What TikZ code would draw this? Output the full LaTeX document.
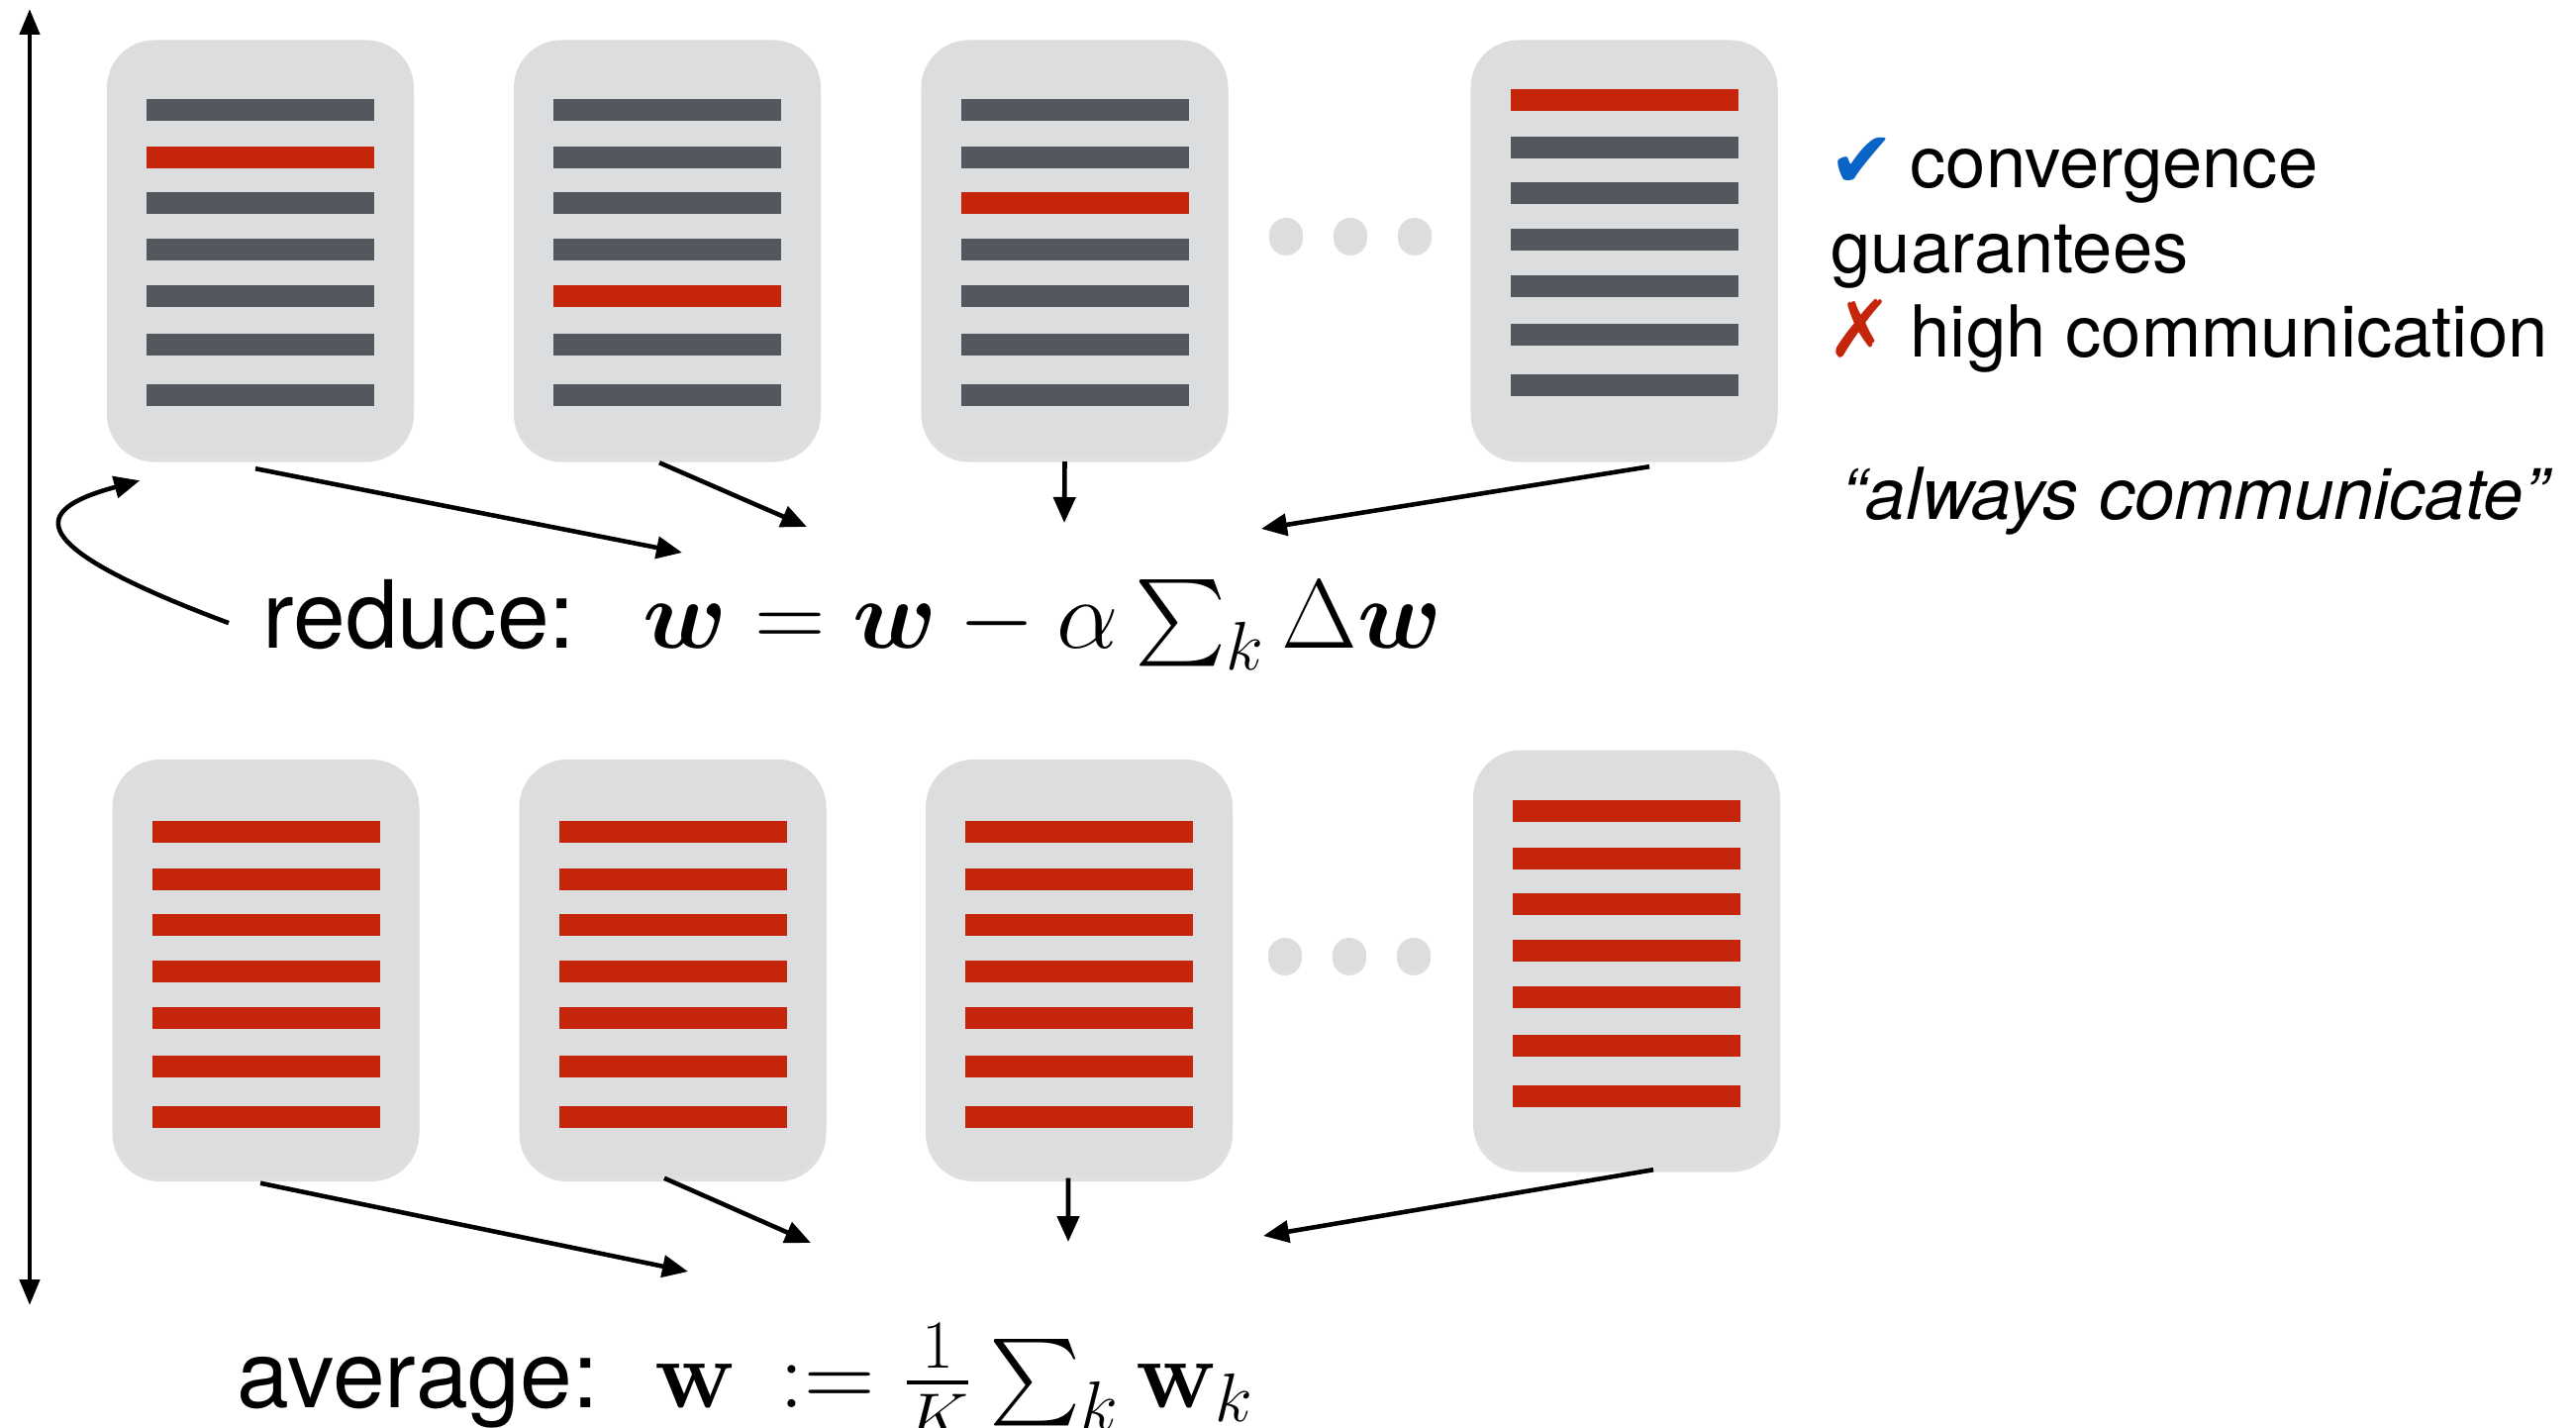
\documentclass[tikz,border=0pt]{standalone}
\usepackage{fix-cm}
\usepackage{amsmath,bm}
\usepackage[no-math]{fontspec}
\setmainfont{TeX Gyre Heros}
\newfontfamily\symfont{DejaVu Sans}
\usetikzlibrary{positioning, arrows.meta, shadows}
\definecolor{boxgray}{HTML}{DCDDDF}
\definecolor{dk}{HTML}{53575E}
\definecolor{rd}{HTML}{C5250A}
\definecolor{chkblue}{HTML}{0A64C8}

% seven bars of one worker: node, extra shift, colour of each row
\newcommand{\serverbars}[3]{%
  \foreach \c [count=\i] in {#3} {
    \pgfmathsetmacro{\yy}{{0.71,1.19,1.65,2.12,2.59,3.08,3.59}[\i-1]+#2-0.11}
    \fill[\c] ([xshift=-1.15cm, yshift=-\yy cm]#1.north) rectangle +(2.3,-0.22);
  }}

\begin{document}
\begin{tikzpicture}
\tikzstyle{worker}=[rounded corners=0.48cm, fill=boxgray, minimum width=3.1cm, minimum height=4.2cm, drop shadow={opacity=0.25, shadow xshift=0pt, shadow yshift=-0.06cm}]
\tikzstyle{dot}=[circle, fill=boxgray, minimum size=0.34cm, inner sep=0pt, drop shadow={opacity=0.25, shadow xshift=0pt, shadow yshift=-0.04cm}]
\tikzstyle{arr}=[line width=1.3pt, -{Triangle[length=0.26cm, width=0.22cm]}]
\tikzstyle{lbl}=[inner sep=0pt, anchor=base west]
\tikzstyle{big}=[lbl, font=\fontsize{27}{32}\selectfont]
\tikzstyle{eq}=[lbl, font=\fontsize{28.2}{32}\selectfont]
\tikzstyle{side}=[lbl, font=\fontsize{20.6}{24.3}\selectfont]
\useasboundingbox (0,0) rectangle (26.02,-14.41);

% top row: one gradient each
\node[worker] (t1) at (2.63,-2.505) {}; \node[worker] (t2) at (6.74,-2.505) {}; \node[worker] (t3) at (10.855,-2.505) {}; \node[worker] (t4) at (16.405,-2.505) {};
\serverbars{t1}{0}{dk,rd,dk,dk,dk,dk,dk}
\serverbars{t2}{0}{dk,dk,dk,dk,rd,dk,dk}
\serverbars{t3}{0}{dk,dk,rd,dk,dk,dk,dk}
\serverbars{t4}{-0.10}{rd,dk,dk,dk,dk,dk,dk}
\node[dot] (td1) at (12.99,-2.37) {}; \node[dot] (td2) at (13.64,-2.37) {}; \node[dot] (td3) at (14.29,-2.37) {};

% bottom row: full models
\node[worker] (b1) at (2.685,-9.77) {}; \node[worker] (b2) at (6.795,-9.77) {}; \node[worker] (b3) at (10.9,-9.77) {}; \node[worker] (b4) at (16.43,-9.675) {};
\serverbars{b1}{0.03}{rd,rd,rd,rd,rd,rd,rd}
\serverbars{b2}{0.03}{rd,rd,rd,rd,rd,rd,rd}
\serverbars{b3}{0.03}{rd,rd,rd,rd,rd,rd,rd}
\serverbars{b4}{-0.09}{rd,rd,rd,rd,rd,rd,rd}
\node[dot] (bd1) at (12.98,-9.64) {}; \node[dot] (bd2) at (13.63,-9.64) {}; \node[dot] (bd3) at (14.28,-9.64) {};

% formulas
\node[big] (red) at (2.65,-6.54) {reduce:};
\node[eq] (redf) at (6.49,-6.54) {$\bm{w} = \bm{w} - \alpha \sum_k \Delta \bm{w}$};
\node[big] (avg) at (2.39,-14.21) {average:};
\node[eq] (avgf) at (6.61,-14.21) {$\mathbf{w}\, := \frac{1}{K}\sum_k \mathbf{w}_k$};

% arrows into the formulas
\coordinate (r1) at (6.89,-5.58); \coordinate (r2) at (8.15,-5.32); \coordinate (r3) at (10.75,-5.28); \coordinate (r4) at (12.74,-5.34);
\draw[arr] ([xshift=-0.05cm, yshift=-0.12cm]t1.south) -- (r1);
\draw[arr] ([xshift=-0.08cm, yshift=-0.06cm]t2.south) -- (r2);
\draw[arr] ([xshift=-0.10cm, yshift=-0.05cm]t3.south) -- (r3);
\draw[arr] ([xshift=0.255cm, yshift=-0.10cm]t4.south) -- (r4);
\draw[arr] ([xshift=-0.34cm, yshift=-0.09cm]red.west) .. controls (0.2,-5.5) and (0.3,-5.15) .. ([xshift=0.34cm, yshift=-0.24cm]t1.south west);

\coordinate (s1) at (6.95,-12.84); \coordinate (s2) at (8.19,-12.55); \coordinate (s3) at (10.79,-12.54); \coordinate (s4) at (12.76,-12.48);
\draw[arr] ([xshift=-0.055cm, yshift=-0.07cm]b1.south) -- (s1);
\draw[arr] ([xshift=-0.085cm, yshift=-0.02cm]b2.south) -- (s2);
\draw[arr] ([xshift=-0.11cm, yshift=-0.02cm]b3.south) -- (s3);
\draw[arr] ([xshift=0.27cm, yshift=-0.03cm]b4.south) -- (s4);

% time axis
\coordinate (vt) at (0.30,-0.09); \coordinate (vb) at (0.30,-13.18);
\draw[line width=1.3pt, {Triangle[length=0.26cm, width=0.2cm]}-{Triangle[length=0.26cm, width=0.2cm]}] (vt) -- (vb);

% pros and cons
\node[side] (pro) at (18.47,-1.90) {\makebox[0.82cm][l]{\symfont\color{chkblue}\scalebox{1.1}{✔}}convergence};
\node[side] (pro2) at (18.49,-2.755) {guarantees};
\node[side] (con) at (18.45,-3.61) {\makebox[0.84cm][l]{\symfont\color{rd}\scalebox{1.1}{✗}}high communication};
\node[side, font=\fontsize{20.6}{24.3}\selectfont\itshape] (quote) at (18.60,-5.24) {“always communicate”};
\end{tikzpicture}
\end{document}
